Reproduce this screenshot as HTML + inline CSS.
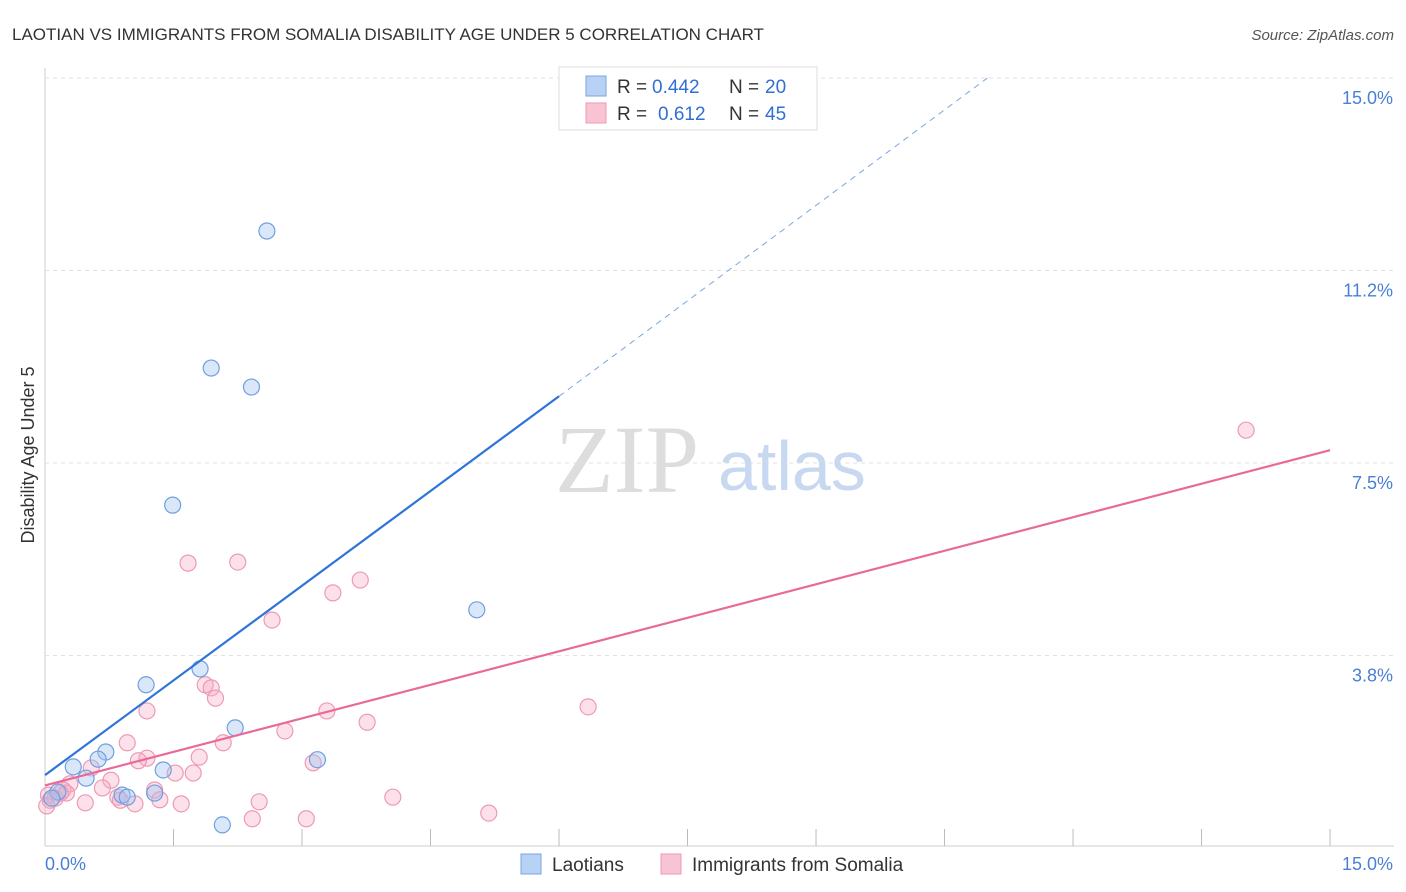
<!DOCTYPE html>
<html><head><meta charset="utf-8"><style>
body{margin:0;background:#fff;font-family:"Liberation Sans",sans-serif;}
svg{display:block}
</style></head><body>
<svg id="chart" width="1406" height="892">
<text x="12" y="40" font-size="17" fill="#333">LAOTIAN VS IMMIGRANTS FROM SOMALIA DISABILITY AGE UNDER 5 CORRELATION CHART</text>
<text x="1394" y="40" font-size="15" fill="#555" text-anchor="end" font-style="italic">Source: ZipAtlas.com</text>
<text x="34" y="455" font-size="18" fill="#333" text-anchor="middle" transform="rotate(-90 34 455)">Disability Age Under 5</text>
<g id="grid"></g><g id="marks"></g>
<text x="555" y="492" font-size="96" fill="#ddd" font-family="Liberation Serif,serif">ZIP</text>
<text x="718" y="490" font-size="70" fill="#c8d8f0">atlas</text>
<g>
<rect x="559" y="67" width="258" height="63" fill="#fff" stroke="#ddd"/>
<rect x="586" y="76" width="20" height="20" fill="#b8d2f5" stroke="#7aa6e0"/>
<rect x="586" y="103" width="20" height="20" fill="#f8c4d4" stroke="#ee9ab4"/>
<text x="617" y="93" font-size="19" fill="#333">R =</text>
<text x="652" y="93" font-size="19" fill="#2f6fd6">0.442</text>
<text x="729" y="93" font-size="19" fill="#333">N =</text>
<text x="765" y="93" font-size="19" fill="#2f6fd6">20</text>
<text x="617" y="120" font-size="19" fill="#333">R =</text>
<text x="658" y="120" font-size="19" fill="#2f6fd6">0.612</text>
<text x="729" y="120" font-size="19" fill="#333">N =</text>
<text x="765" y="120" font-size="19" fill="#2f6fd6">45</text>
</g>
<g>
<rect x="521" y="854" width="20" height="20" fill="#b8d2f5" stroke="#7aa6e0"/>
<text x="552" y="871" font-size="19" fill="#333">Laotians</text>
<rect x="661" y="854" width="20" height="20" fill="#f8c4d4" stroke="#ee9ab4"/>
<text x="692" y="871" font-size="19" fill="#333">Immigrants from Somalia</text>
</g>
</svg>
<script>
const yTicks=[3.75,7.5,11.25,15];
const yTickLabels=["3.8%","7.5%","11.2%","15.0%"];
const xTickVals=[1.5,3,4.5,6,7.5,9,10.5,12,13.5,15];
const laotianX=[2.59,1.94,2.41,1.49,5.04,1.81,1.18,2.22,3.18,0.71,0.62,0.33,0.48,1.38,0.15,0.08,0.90,0.96,1.28,2.07];
const laotianY=[12.02,9.35,8.98,6.68,4.64,3.49,3.18,2.34,1.72,1.87,1.73,1.58,1.36,1.52,1.09,0.97,1.03,0.99,1.07,0.45];
const somaliX=[14.02,1.67,2.25,3.68,3.36,2.65,6.34,1.87,1.94,1.99,1.19,3.29,3.76,2.80,0.96,2.08,1.19,1.80,1.09,3.13,0.54,1.52,1.73,0.77,0.29,0.67,0.21,1.28,0.04,0.12,0.85,1.34,0.47,1.05,1.59,2.50,4.06,2.42,3.05,5.18,0.06,0.02,0.18,0.25,0.88];
const somaliY=[8.14,5.55,5.57,5.22,4.97,4.44,2.75,3.18,3.12,2.92,2.67,2.67,2.45,2.28,2.05,2.05,1.75,1.77,1.70,1.66,1.56,1.46,1.46,1.32,1.25,1.17,1.13,1.13,1.03,0.97,0.99,0.94,0.88,0.86,0.86,0.90,0.99,0.57,0.57,0.68,0.93,0.82,1.07,1.07,0.93];
const blueLine=[0,1.42,6,8.8];
const blueDashEnd=[11,15.0];
const pinkLine=[0,1.22,15,7.75];
const X=v=>45+v*85.67, Y=v=>848-v*51.33;
const NS="http://www.w3.org/2000/svg";
const grid=document.getElementById('grid'), marks=document.getElementById('marks');
function mk(p,tag,a){const e=document.createElementNS(NS,tag);for(const k in a)e.setAttribute(k,a[k]);p.appendChild(e);return e;}
let ax=mk(grid,'line',{x1:45,y1:68,x2:45,y2:846,stroke:'#ccc'});


let xa=mk(grid,'line',{x1:45,y1:846,x2:1394,y2:846,stroke:'#ccc'});


yTicks.forEach((t,i)=>{
 let g=mk(grid,'line',{x1:45,y1:Y(t),x2:1394,y2:Y(t),stroke:'#e2e2e2','stroke-dasharray':'4,4'});
 
 
 let l=mk(grid,'text',{x:1393,y:Y(t)+26,'font-size':18,fill:'#4a7fd6','text-anchor':'end'});l.textContent=yTickLabels[i];
 
 
});
xTickVals.forEach(t=>{let k=mk(grid,'line',{x1:X(t),y1:829,x2:X(t),y2:846,stroke:'#bbb'});
 
 });
let x0=mk(grid,'text',{x:45,y:870,'font-size':18,fill:'#4a7fd6'});x0.textContent='0.0%';


let x1=mk(grid,'text',{x:1393,y:870,'font-size':18,fill:'#4a7fd6','text-anchor':'end'});x1.textContent='15.0%';


somaliX.forEach((v,i)=>{let c=mk(marks,'circle',{cx:X(v),cy:Y(somaliY[i]),r:8,fill:'rgba(246,170,195,0.35)',stroke:'#ee9ab4','stroke-width':1.2});
 
 });
laotianX.forEach((v,i)=>{let c=mk(marks,'circle',{cx:X(v),cy:Y(laotianY[i]),r:8,fill:'rgba(160,195,240,0.4)',stroke:'#6f9fe0','stroke-width':1.2});
 
 });
let bl=mk(marks,'line',{x1:X(blueLine[0]),y1:Y(blueLine[1]),x2:X(blueLine[2]),y2:Y(blueLine[3]),stroke:'#2f74d8','stroke-width':2.2});


let bd=mk(marks,'line',{x1:X(blueLine[2]),y1:Y(blueLine[3]),x2:X(blueDashEnd[0]),y2:Y(blueDashEnd[1]),stroke:'#7aa6e0','stroke-width':1,'stroke-dasharray':'6,5'});


let pl=mk(marks,'line',{x1:X(pinkLine[0]),y1:Y(pinkLine[1]),x2:X(pinkLine[2]),y2:Y(pinkLine[3]),stroke:'#e8699a','stroke-width':2.2});


</script>
</body></html>
